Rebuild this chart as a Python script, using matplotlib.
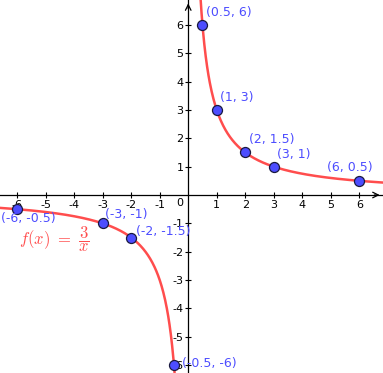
import matplotlib.pyplot as plt
import numpy as np

plt.rcParams["axes.unicode_minus"] = False
plt.rcParams["mathtext.fontset"] = "cm"

# points on f(x) = 3/x
pts_x = [0.5, 1, 2, 3, 6, -6, -3, -2, -0.5]
pts_y = [6, 3, 1.5, 1, 0.5, -0.5, -1, -1.5, -6]
# label offsets (pixels) for each point label: left edge, vertical centre
lbl_off = [(4, 12), (3, 12), (4, 13), (3, 12), (-32, 13), (-16, -9), (2, 9), (5, 6), (8, 2)]

x_ticks = [-6, -5, -4, -3, -2, -1, 1, 2, 3, 4, 5, 6]
y_ticks = [-6, -5, -4, -3, -2, -1, 1, 2, 3, 4, 5, 6]

xmin, xmax = -6.60, 6.83
ymin, ymax = -6.28, 6.88

RED = "#ff4d4d"
BLUE = "#4d4dff"

fig = plt.figure(figsize=(3.83, 3.73), dpi=100)
ax = fig.add_axes([0, 0, 1, 1])
ax.set_xlim(xmin, xmax)
ax.set_ylim(ymin, ymax)

# curve, two branches
xl = np.linspace(xmin, -0.44, 400)
xr = np.linspace(0.42, xmax, 400)
ax.plot(xl, 3 / xl, color=RED, lw=1.8, zorder=2)
ax.plot(xr, 3 / xr, color=RED, lw=1.8, zorder=2)

# axes through the origin
for s in ["top", "right"]:
    ax.spines[s].set_visible(False)
ax.spines["left"].set_position(("data", 0))
ax.spines["bottom"].set_position(("data", 0))
ax.spines["left"].set_linewidth(0.9)
ax.spines["bottom"].set_linewidth(0.9)
ax.set_xticks(x_ticks)
ax.set_yticks(y_ticks)
ax.set_xticklabels([str(t) for t in x_ticks])
ax.set_yticklabels([str(t) for t in y_ticks])
ax.tick_params(axis="both", direction="inout", length=5, width=0.8, labelsize=8, pad=1)
ax.text(-0.29, -0.28, "0", fontsize=8, ha="center", va="center")

# arrow heads
ax.annotate("", xy=(xmax - 0.02, 0), xytext=(xmax - 0.4, 0),
            arrowprops=dict(arrowstyle="->", lw=0.9, color="black", mutation_scale=10))
ax.annotate("", xy=(0, ymax - 0.02), xytext=(0, ymax - 0.4),
            arrowprops=dict(arrowstyle="->", lw=0.9, color="black", mutation_scale=10))

# points and labels
ax.scatter(pts_x, pts_y, s=52, color=BLUE, edgecolor="#1a1a40", linewidth=0.9, zorder=4)
for x, y, (dx, dy) in zip(pts_x, pts_y, lbl_off):
    ax.annotate("({:g}, {:g})".format(x, y), (x, y), xytext=(dx, dy),
                textcoords="offset pixels", ha="left", va="center",
                color=BLUE, fontsize=9, zorder=5)

ax.text(-5.95, -1.55, r"$f(x)\ =\ \dfrac{3}{x}$", color=RED, fontsize=12,
        ha="left", va="center")

fig.savefig("out.png", dpi=100)
